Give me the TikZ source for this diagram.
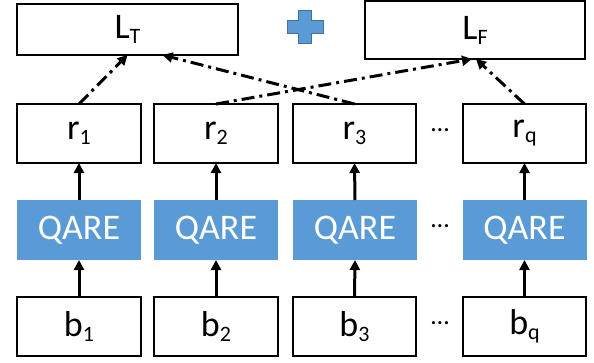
\documentclass[tikz,border=0pt]{standalone}
\usepackage{fontspec}
\setmainfont{Carlito}
\usetikzlibrary{arrows.meta}
\definecolor{qblue}{HTML}{5B9BD5}
\definecolor{qedge}{HTML}{41719C}
\newcommand\sbs[1]{\raisebox{-0.14em}{\fontsize{22}{22}\selectfont #1}}
\begin{document}
\begin{tikzpicture}[x=1pt,y=-1pt,
  every node/.style={inner sep=0pt, outer sep=0pt, font=\fontsize{36}{36}\selectfont},
  wbox/.style={draw=black, line width=1.8pt, fill=white, minimum width=123pt, minimum height=59pt},
  qbox/.style={fill=qblue, text=white, minimum width=124pt, minimum height=60pt},
  dotsnode/.style={font=\fontsize{26}{26}\selectfont},
  up/.style={line width=3pt, -{Triangle[length=10pt,width=10pt]}},
  dd/.style={line width=3pt, dash pattern=on 13pt off 5pt on 3pt off 5pt, -{Triangle[length=10pt,width=10pt]}}]
\useasboundingbox (0,0) rectangle (594,362);
% loss boxes
\node[wbox, minimum width=221pt, minimum height=51pt] (LT) at (127.5,29.5) {L\sbs{T}};
\node[wbox, minimum width=220pt, minimum height=58pt] (LF) at (475,30) {L\sbs{F}};
% plus sign
\draw[fill=qblue, draw=qedge, line width=0.8pt]
  (298,10) -- (311,10) -- (311,20.5) -- (323,20.5) -- (323,33) -- (311,33) -- (311,43)
  -- (298,43) -- (298,33) -- (287,33) -- (287,20.5) -- (298,20.5) -- cycle;
% r row
\node[wbox, minimum width=124pt] (r1) at (79,133.5) {r\sbs{1}};
\node[wbox, minimum width=124pt] (r2) at (216,133.5) {r\sbs{2}};
\node[wbox] (r3) at (354.5,133.5) {r\sbs{3}};
\node[wbox] (rq) at (524.5,133.5) {r\sbs{q}};
% QARE row
\node[qbox] (q1) at (79,230) {QARE};
\node[qbox] (q2) at (216,230) {QARE};
\node[qbox] (q3) at (355,230) {QARE};
\node[qbox] (qq) at (524.5,230) {QARE};
% b row
\node[wbox, minimum width=124pt] (b1) at (79,326.5) {b\sbs{1}};
\node[wbox, minimum width=124pt] (b2) at (216,326.5) {b\sbs{2}};
\node[wbox] (b3) at (354.5,326.5) {b\sbs{3}};
\node[wbox] (bq) at (524.5,326.5) {b\sbs{q}};
% dots
\node[dotsnode] (d1) at (440,130) {…};
\node[dotsnode] (d2) at (440,226) {…};
\node[dotsnode] (d3) at (440,323) {…};
% solid arrows
\foreach \a/\b in {b1/q1,b2/q2,b3/q3,bq/qq,q1/r1,q2/r2,q3/r3,qq/rq}
  \draw[up] (\a.north) -- (\b.south);
% dash-dot arrows
\draw[dd] (r1.north) -- (LT.south);
\draw[dd] (r3.north) -- ([xshift=35pt]LT.south);
\draw[dd] (r2.north) -- ([xshift=-3pt]LF.south);
\draw[dd] (rq.north) -- ([xshift=1pt]LF.south);
\end{tikzpicture}
\end{document}
